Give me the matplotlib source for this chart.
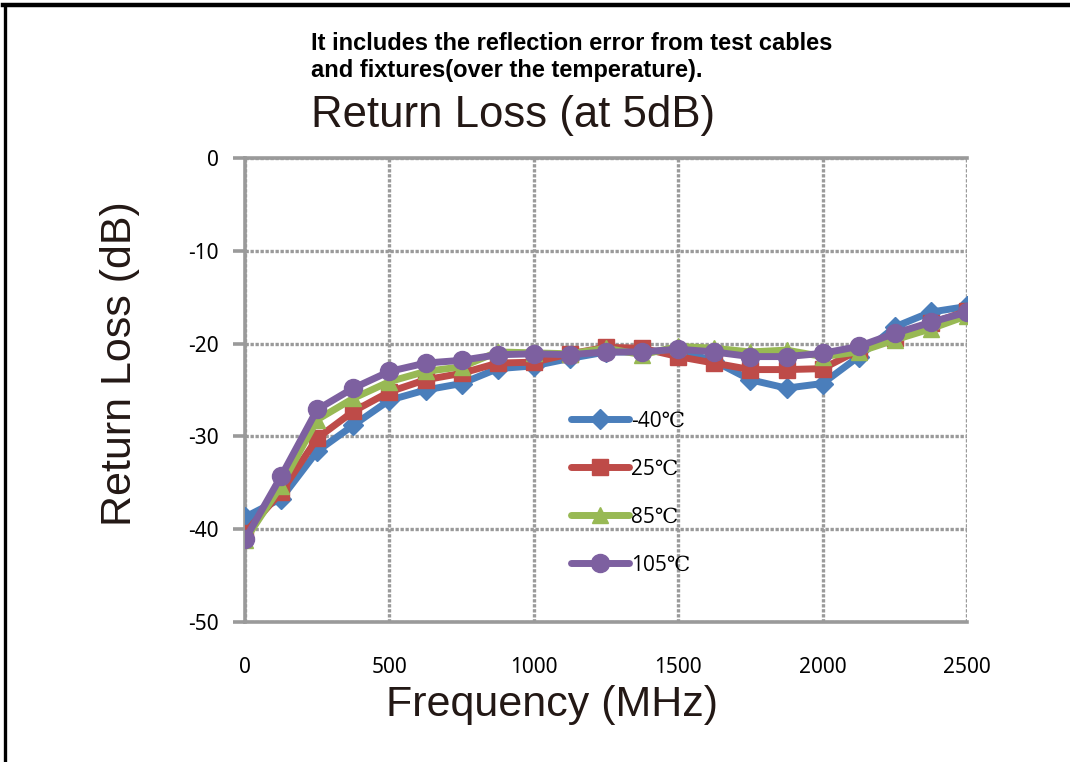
import matplotlib.pyplot as plt
from matplotlib.lines import Line2D
import numpy as np

plt.rcParams['axes.unicode_minus'] = False

freq = [0, 125, 250, 375, 500, 625, 750, 875, 1000, 1125, 1250,
        1375, 1500, 1625, 1750, 1875, 2000, 2125, 2250, 2375, 2500]
rl_m40 = [-38.7, -36.7, -31.6, -28.8, -26.1, -25.0, -24.3, -22.7, -22.4, -21.6, -20.9,
          -20.9, -20.7, -21.9, -23.9, -24.8, -24.3, -21.4, -18.2, -16.6, -16.0]
rl_25 = [-40.4, -36.0, -30.2, -27.3, -25.2, -23.9, -23.2, -22.1, -22.0, -21.1, -20.4,
         -20.5, -21.4, -22.1, -22.8, -22.8, -22.7, -20.7, -19.4, -17.8, -16.5]
rl_85 = [-41.2, -35.3, -28.2, -25.9, -24.1, -23.0, -22.5, -20.9, -21.0, -21.1, -20.5,
         -21.2, -20.3, -20.5, -20.9, -20.7, -21.4, -20.9, -19.6, -18.4, -17.0]
rl_105 = [-41.1, -34.3, -27.1, -24.8, -23.0, -22.1, -21.8, -21.2, -21.1, -21.2, -20.9,
          -20.9, -20.6, -20.9, -21.4, -21.4, -21.05, -20.3, -18.9, -17.7, -16.6]

labels = ['-40℃', '25℃', '85℃', '105℃']
colors = ['#4a7ebb', '#be4b48', '#98b954', '#7d60a0']
markers = ['D', 's', '^', 'o']
msizes = [10, 12, 12, 13]

gray = '#9a9a9a'
tick_font = ['Noto Sans', 'DejaVu Sans']
sans = ['Liberation Sans', 'DejaVu Sans']

fig = plt.figure(figsize=(10.7, 7.62), dpi=100)
ax = fig.add_axes([245 / 1070, 1 - 622 / 762, 722 / 1070, 464 / 762])

series = [rl_m40, rl_25, rl_85, rl_105]
for ys, c, m, ms, lab in zip(series, colors, markers, msizes, labels):
    ax.plot(freq, ys, color=c, lw=5, marker=m, ms=ms, mec=c, mfc=c,
            label=lab, solid_joinstyle='round', solid_capstyle='round', zorder=3)

ax.set_xlim(0, 2500)
ax.set_ylim(-50, 0)
ax.set_xticks(np.arange(0, 2501, 500))
ax.set_yticks(np.arange(-50, 1, 10))
ax.grid(True, color=gray, lw=2.4, ls=(0, (1.0, 0.5)), zorder=0)
for s in ['left', 'bottom', 'top']:
    ax.spines[s].set_color(gray)
    ax.spines[s].set_linewidth(2.6)
ax.spines['right'].set_visible(False)
ax.tick_params(axis='y', length=9, width=2.6, color=gray, pad=10)
ax.tick_params(axis='x', length=0, pad=25)
for t in ax.get_xticklabels() + ax.get_yticklabels():
    t.set_family(tick_font)
    t.set_fontsize(15)

ax.set_xlabel('Frequency (MHz)', fontsize=31, family=sans, color='#231815', labelpad=4)
ax.xaxis.set_label_coords((552 - 245) / 722, -0.135)
ax.set_ylabel('Return Loss (dB)', fontsize=31, family=sans, color='#231815')
ax.yaxis.set_label_coords(-0.145, (622 - 364) / 464)

handles = [Line2D([], [], color=c, lw=5, marker=m, ms=ms, mec=c, mfc=c,
                  solid_capstyle='round') for c, m, ms in zip(colors, markers, msizes)]
ax.legend(handles, labels, loc='upper left', bbox_to_anchor=(0.452, 0.456),
          frameon=False, prop={'family': ['Open Sans', 'DejaVu Serif'], 'size': 15},
          handlelength=2.75, handletextpad=0.1, labelspacing=1.3,
          borderpad=0, borderaxespad=0)

fig.text(311 / 1070, 1 - 43 / 762, 'It includes the reflection error from test cables',
         fontsize=17, fontweight='bold', family=sans, va='center', ha='left')
fig.text(311 / 1070, 1 - 70 / 762, 'and fixtures(over the temperature).',
         fontsize=17, fontweight='bold', family=sans, va='center', ha='left')
fig.text(311 / 1070, 1 - 115 / 762, 'Return Loss (at 5dB)', fontsize=31.5,
         family=sans, color='#231815', va='center', ha='left')

# outer black frame (top and left edges)
fig.add_artist(Line2D([3 / 1070, 1], [1 - 5 / 762, 1 - 5 / 762], color='black', lw=3.2,
                      transform=fig.transFigure))
fig.add_artist(Line2D([5 / 1070, 5 / 1070], [0, 1 - 5 / 762], color='black', lw=2.4,
                      transform=fig.transFigure))

fig.savefig('out.png', dpi=100)
